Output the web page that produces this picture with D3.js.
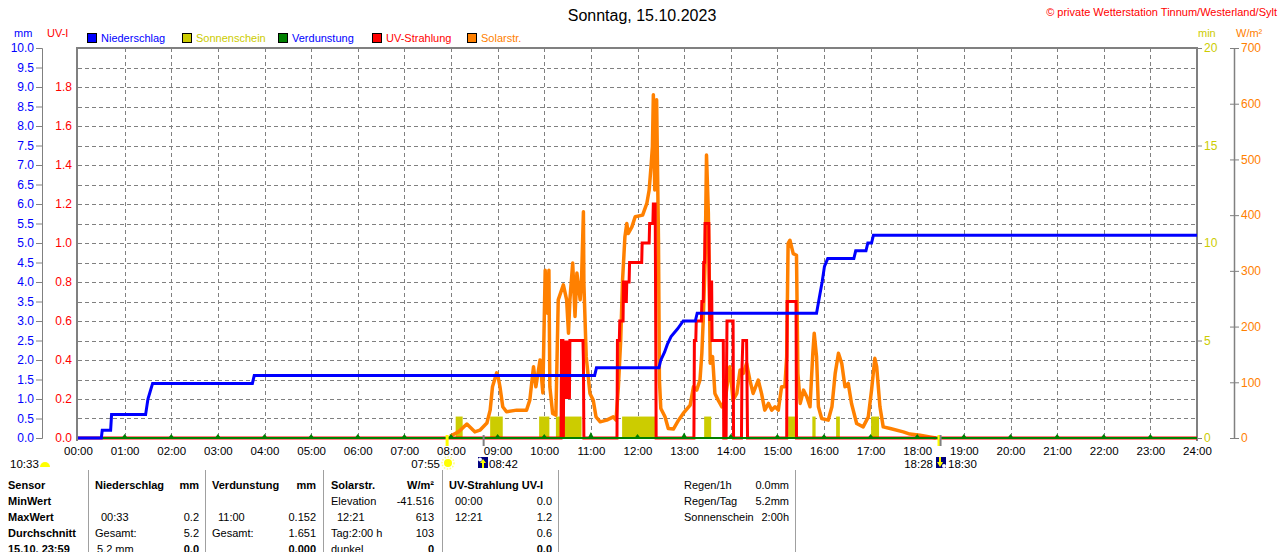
<!DOCTYPE html>
<html>
<head>
<meta charset="utf-8">
<script src="https://cdn.jsdelivr.net/npm/d3@7"></script>
<style>
  body { margin: 0; background: #fff; }
  svg { display: block; font-family: "Liberation Sans", Arial, sans-serif; }
</style>
</head>
<body>
<script>
// ---- data ----
var hourLabels = ["00:00","01:00","02:00","03:00","04:00","05:00","06:00","07:00","08:00","09:00","10:00","11:00","12:00",
  "13:00","14:00","15:00","16:00","17:00","18:00","19:00","20:00","21:00","22:00","23:00","24:00"];
var mmTicks = [0,0.5,1,1.5,2,2.5,3,3.5,4,4.5,5,5.5,6,6.5,7,7.5,8,8.5,9,9.5,10];
var uvTicks = [0,0.2,0.4,0.6,0.8,1.0,1.2,1.4,1.6,1.8];
var sunTicks = [0,5,10,15,20];
var solarTicks = [0,100,200,300,400,500,600,700];

// Niederschlag, cumulative mm  [hour, mm]
var rain = [[0,0],[0.50,0],[0.52,0.2],[0.70,0.2],[0.72,0.6],[1.45,0.6],[1.50,1.0],[1.55,1.2],[1.60,1.4],
  [3.74,1.4],[3.78,1.6],[11.08,1.6],[11.12,1.8],[12.46,1.8],[12.50,2.0],[12.58,2.2],[12.64,2.4],[12.72,2.6],
  [12.86,2.8],[12.98,3.0],[13.24,3.0],[13.28,3.2],[15.84,3.2],[15.90,3.6],[15.96,4.0],[16.01,4.4],[16.08,4.6],
  [16.64,4.6],[16.68,4.8],[16.90,4.8],[16.94,5.0],[17.02,5.0],[17.06,5.2],[24,5.2]];

// UV-Strahlung, UV-I  [hour, index]
var uv = [[0,0],[10.36,0],[10.37,0.5],[10.40,0.5],[10.41,0],[10.42,0.5],[10.44,0.2],[10.45,0.5],[10.46,0.2],
  [10.47,0.5],[10.48,0.2],[10.49,0.5],[10.50,0.3],[10.51,0.5],[10.52,0.2],[10.53,0.5],[10.54,0.2],[10.55,0.5],
  [10.83,0.5],[10.84,0.4],[10.85,0],[11.56,0],[11.57,0.5],[11.61,0.5],[11.62,0.6],[11.69,0.6],[11.70,0.8],
  [11.73,0.8],[11.74,0.7],[11.76,0.7],[11.77,0.8],[11.82,0.8],[11.83,0.9],[12.09,0.9],[12.10,1.0],[12.25,1.0],
  [12.26,1.1],[12.33,1.1],[12.34,1.2],[12.38,1.2],[12.40,0],[13.21,0],[13.22,0.5],[13.25,0.5],[13.26,0.6],
  [13.37,0.6],[13.38,0.7],[13.41,0.7],[13.42,0.9],[13.44,0.9],[13.45,1.1],[13.53,1.1],[13.54,0.8],[13.55,0.6],
  [13.57,0.8],[13.59,0.8],[13.60,0.5],[13.84,0.5],[13.85,0],[13.90,0],[13.91,0.35],[13.92,0.6],[14.05,0.6],
  [14.06,0],[14.23,0],[14.24,0.35],[14.26,0.5],[14.34,0.5],[14.36,0],[15.20,0],[15.21,0.7],[15.40,0.7],
  [15.41,0],[24,0]];

// Solarstrahlung W/m2  [hour, W/m2]
var solar = [[7.98,3],[8.16,11],[8.34,25],[8.51,11],[8.62,14],[8.77,27],[8.84,50],[8.89,92],[8.98,117],[9.01,110],
  [9.05,92],[9.11,56],[9.19,47],[9.41,50],[9.62,50],[9.69,68],[9.77,128],[9.82,92],[9.91,140],[9.97,81],
  [10.02,301],[10.07,224],[10.10,301],[10.12,92],[10.18,44],[10.25,41],[10.30,248],[10.41,275],[10.48,248],
  [10.52,188],[10.55,248],[10.61,314],[10.66,218],[10.70,296],[10.77,248],[10.80,284],[10.84,406],[10.85,278],
  [10.90,146],[10.98,80],[11.05,68],[11.11,38],[11.20,29],[11.34,32],[11.48,38],[11.54,32],[11.59,92],
  [11.64,176],[11.68,284],[11.73,361],[11.77,385],[11.80,367],[11.88,379],[11.95,397],[12.11,400],[12.20,421],
  [12.25,445],[12.29,487],[12.32,523],[12.34,616],[12.37,445],[12.41,607],[12.45,355],[12.47,104],[12.50,53],
  [12.59,38],[12.66,17],[12.77,16],[12.88,32],[12.98,44],[13.13,59],[13.20,92],[13.27,86],[13.34,104],
  [13.38,152],[13.41,212],[13.45,314],[13.48,508],[13.52,403],[13.56,134],[13.61,146],[13.66,80],[13.73,68],
  [13.81,56],[13.88,68],[13.98,128],[14.05,68],[14.13,80],[14.20,122],[14.27,116],[14.34,134],[14.41,104],
  [14.48,80],[14.59,104],[14.66,80],[14.73,50],[14.81,62],[14.88,50],[14.95,56],[15.02,50],[15.09,92],
  [15.16,92],[15.20,146],[15.23,349],[15.27,355],[15.34,331],[15.41,328],[15.44,116],[15.49,62],[15.56,86],
  [15.63,74],[15.70,56],[15.76,152],[15.79,188],[15.84,146],[15.88,56],[15.95,35],[16.09,32],[16.17,56],
  [16.24,116],[16.31,152],[16.38,134],[16.45,92],[16.52,98],[16.59,62],[16.70,26],[16.84,20],[16.95,38],
  [17.02,86],[17.09,143],[17.13,128],[17.20,56],[17.27,20],[17.42,17],[17.70,11],[17.84,7],[18.06,5],
  [18.27,2],[18.40,0]];

// Sonnenschein, minutes per minute step
var sunFrom = [8.10,8.84,9.89,10.25,11.67,13.43,15.23,15.75,16.26,17.01];
var sunTo   = [8.25,9.11,10.11,10.80,12.41,13.58,15.44,15.82,16.34,17.18];
var sunMin  = [1.1,1.1,1.1,1.1,1.1,1.1,1.1,1.1,1.1,1.1];

// Verdunstung per hour, mm
var evapHour = [1,2,3,4,5,6,7,8,9,10,11,12,13,14,15,16,17,18,19,20,21,22,23];
var evapMm = [0.02,0.02,0.02,0.02,0.02,0.02,0.02,0.03,0.06,0.08,0.152,0.08,0.14,0.08,0.06,0.1,0.06,0.03,0.02,0.02,0.02,0.02,0.02];

// legend
var legendNames = ["Niederschlag","Sonnenschein","Verdunstung","UV-Strahlung","Solarstr."];
var legendFill = ["#0000ff","#cccc00","#008000","#ff0000","#ff8000"];
var legendText = ["#0000ff","#cccc00","#0000ff","#ff0000","#ff8000"];

// table
var tableRows = [
  ["Sensor","Niederschlag","mm","Verdunstung","mm","Solarstr.","W/m²","UV-Strahlung UV-I",""],
  ["MinWert","","","","","Elevation","-41.516","00:00","0.0"],
  ["MaxWert","00:33","0.2","11:00","0.152","12:21","613","12:21","1.2"],
  ["Durchschnitt","Gesamt:","5.2","Gesamt:","1.651","Tag:2:00 h","103","","0.6"],
  ["15.10. 23:59","5.2 mm","0.0","","0.000","dunkel","0","","0.0"]
];
var summaryLabels = ["Regen/1h","Regen/Tag","Sonnenschein"];
var summaryValues = ["0.0mm","5.2mm","2:00h"];

// ---- layout ----
var W = 1280, H = 552;
var plotL = 78, plotR = 1197, plotT = 48, plotB = 438;

var svg = d3.select("body").append("svg").attr("width", W).attr("height", H);
svg.append("rect").attr("width", W).attr("height", H).attr("fill", "#fff");

var x = d3.scaleLinear().domain([0, 24]).range([plotL, plotR]);
var yMm = d3.scaleLinear().domain([0, 10]).range([plotB, plotT]);
var yUv = d3.scaleLinear().domain([0, 2]).range([plotB, plotT]);
var ySun = d3.scaleLinear().domain([0, 20]).range([plotB, plotT]);
var ySol = d3.scaleLinear().domain([0, 700]).range([plotB, plotT]);

// titles
svg.append("text").attr("x", 642).attr("y", 21).attr("text-anchor", "middle")
  .attr("font-size", 16).text("Sonntag, 15.10.2023");
svg.append("text").attr("x", 1277).attr("y", 16).attr("text-anchor", "end")
  .attr("font-size", 11).attr("fill", "#ff0000").text("© private Wetterstation Tinnum/Westerland/Sylt");

// unit labels
svg.append("text").attr("x", 14).attr("y", 37).attr("font-size", 11).attr("fill", "#0000ff").text("mm");
svg.append("text").attr("x", 47).attr("y", 37).attr("font-size", 11).attr("fill", "#ff0000").text("UV-I");
svg.append("text").attr("x", 1198).attr("y", 37).attr("font-size", 11).attr("fill", "#cccc00").text("min");
svg.append("text").attr("x", 1236).attr("y", 37).attr("font-size", 11).attr("fill", "#ff8000").text("W/m²");

// legend
var legendX = [87, 182, 278, 372, 467];
var lg = svg.append("g").selectAll("g").data(legendNames).enter().append("g")
  .attr("transform", (d, i) => `translate(${legendX[i]},33)`);
lg.append("rect").attr("x", 0.5).attr("y", 0.5).attr("width", 9).attr("height", 9)
  .attr("fill", (d, i) => legendFill[i]).attr("stroke", "#000");
lg.append("text").attr("x", 14).attr("y", 9).attr("font-size", 11)
  .attr("fill", (d, i) => legendText[i]).text(d => d);

// grid
var grid = svg.append("g").attr("stroke", "#808080").attr("stroke-dasharray", "4,3").attr("stroke-width", 1);
grid.selectAll(".h").data(mmTicks.filter(d => d > 0 && d < 10)).enter().append("line")
  .attr("x1", plotL).attr("x2", plotR)
  .attr("y1", d => Math.round(yMm(d)) + 0.5).attr("y2", d => Math.round(yMm(d)) + 0.5);
grid.selectAll(".v").data(hourLabels.map((d, i) => i).filter(d => d > 0 && d < 24)).enter().append("line")
  .attr("y1", plotT).attr("y2", plotB)
  .attr("x1", d => Math.round(x(d)) + 0.5).attr("x2", d => Math.round(x(d)) + 0.5);

// axes
var axisMm = svg.append("g").attr("transform", "translate(42,0)")
  .call(d3.axisLeft(yMm).tickValues(mmTicks).tickFormat(d3.format(".1f")).tickSize(6).tickSizeOuter(6).tickPadding(2));
axisMm.selectAll("text").attr("fill", "#0000ff").attr("font-size", 12);
axisMm.selectAll("line, path").attr("stroke", "#808080");
axisMm.attr("font-family", null);

var axisUv = svg.append("g").attr("transform", `translate(${plotL},0)`)
  .call(d3.axisLeft(yUv).tickValues(uvTicks).tickFormat(d3.format(".1f")).tickSize(0).tickPadding(6));
axisUv.select(".domain").remove();
axisUv.selectAll("text").attr("fill", "#ff0000").attr("font-size", 12);
axisUv.attr("font-family", null);

var axisX = svg.append("g").attr("transform", `translate(0,${plotB})`)
  .call(d3.axisBottom(x).tickValues(hourLabels.map((d, i) => i)).tickFormat((d, i) => hourLabels[i]).tickSize(0).tickPadding(9));
axisX.select(".domain").remove();
axisX.selectAll("text").attr("fill", "#000").attr("font-size", 11.5);
axisX.attr("font-family", null);

var axisSun = svg.append("g").attr("transform", `translate(${plotR},0)`)
  .call(d3.axisRight(ySun).tickValues(sunTicks).tickSize(5).tickPadding(2));
axisSun.select(".domain").remove();
axisSun.selectAll("line").attr("stroke", "#808080");
axisSun.selectAll("text").attr("fill", "#cccc00").attr("font-size", 12);
axisSun.attr("font-family", null);

var axisSol = svg.append("g").attr("transform", "translate(1234,0)")
  .call(d3.axisRight(ySol).tickValues(solarTicks).tickSize(5).tickSizeOuter(0).tickPadding(2));
axisSol.select(".domain").attr("stroke", "#808080").attr("stroke-width", 1.5);
axisSol.selectAll("line").attr("stroke", "#808080").attr("x1", -4);
axisSol.selectAll("text").attr("fill", "#ff8000").attr("font-size", 12);
axisSol.attr("font-family", null);

// plot frame
svg.append("path").attr("d", `M${plotL - 1},${plotB + 3}V${plotT}H${plotR}V${plotB + 3}`)
  .attr("fill", "none").attr("stroke", "#808080").attr("stroke-width", 2);

// sunshine bars
svg.append("g").selectAll("rect").data(sunFrom).enter().append("rect")
  .attr("x", d => x(d)).attr("width", (d, i) => x(sunTo[i]) - x(d))
  .attr("y", (d, i) => ySun(sunMin[i])).attr("height", (d, i) => ySun(0) - ySun(sunMin[i]))
  .attr("fill", "#cccc00");

// series lines
var solarLine = d3.line().x(d => x(d[0])).y(d => ySol(d[1]));
svg.append("path").datum(solar).attr("d", solarLine).attr("fill", "none")
  .attr("stroke", "#ff8000").attr("stroke-width", 3.5).attr("stroke-linejoin", "round");

var uvLine = d3.line().x(d => x(d[0])).y(d => yUv(d[1]));
svg.append("path").datum(uv).attr("d", uvLine).attr("fill", "none")
  .attr("stroke", "#ff0000").attr("stroke-width", 3).attr("stroke-linejoin", "miter");

// evaporation baseline + hourly marks (drawn over the zero parts of the other lines)
svg.append("line").attr("x1", x(0)).attr("x2", x(24)).attr("y1", yMm(0)).attr("y2", yMm(0))
  .attr("stroke", "#008000").attr("stroke-width", 2);
svg.append("g").selectAll("path").data(evapHour).enter().append("path")
  .attr("d", (d, i) => {
    var cx = x(d), ty = Math.min(yMm(evapMm[i]), plotB - 4);
    return `M${cx - 3},${plotB}L${cx},${ty}L${cx + 3},${plotB}Z`;
  })
  .attr("fill", "#008000");

var rainLine = d3.line().x(d => x(d[0])).y(d => yMm(d[1]));
svg.append("path").datum(rain).attr("d", rainLine).attr("fill", "none")
  .attr("stroke", "#0000ff").attr("stroke-width", 3).attr("stroke-linejoin", "miter");

// sunrise / sunset markers under the axis
var markT = [7 + 55 / 60, 8 + 42 / 60, 18 + 28 / 60, 18 + 30 / 60];
var markC = ["#ffff00", "#808080", "#ffff00", "#808080"];
svg.append("g").selectAll("line").data(markT).enter().append("line")
  .attr("x1", d => x(d)).attr("x2", d => x(d)).attr("y1", plotB - 3).attr("y2", plotB + 8)
  .attr("stroke", (d, i) => markC[i]).attr("stroke-width", (d, i) => i % 2 ? 2 : 3);

var info = svg.append("g").attr("font-size", 11.5);
info.append("text").attr("x", 10).attr("y", 468).text("10:33");
info.append("path").attr("d", "M40,467 A5,5 0 0 1 50,467 Z").attr("fill", "#ffff00");
info.append("text").attr("x", 440).attr("y", 468).attr("text-anchor", "end").text("07:55");
info.append("circle").attr("cx", 448).attr("cy", 463).attr("r", 4).attr("fill", "#ffff00");
info.append("circle").attr("cx", 448).attr("cy", 463).attr("r", 6).attr("fill", "none")
  .attr("stroke", "#ffff80").attr("stroke-width", 1.5).attr("stroke-dasharray", "1.5,1.5");
info.append("rect").attr("x", 478).attr("y", 457).attr("width", 10).attr("height", 11).attr("fill", "#000080");
info.append("path").attr("d", "M483,459 L480,463 L482,463 L482,468 L484,468 L484,463 L486,463 Z").attr("fill", "#ffff00");
info.append("circle").attr("cx", 480).attr("cy", 459.5).attr("r", 2).attr("fill", "#fff");
info.append("text").attr("x", 489).attr("y", 468).text("08:42");
info.append("text").attr("x", 933).attr("y", 468).attr("text-anchor", "end").text("18:28");
info.append("rect").attr("x", 936).attr("y", 457).attr("width", 10).attr("height", 11).attr("fill", "#000080");
info.append("path").attr("d", "M940,467 L937,462 L939,462 L939,457 L941,457 L941,462 L943,462 Z").attr("fill", "#ffff00");
info.append("circle").attr("cx", 944).attr("cy", 466).attr("r", 2).attr("fill", "#fff");
info.append("text").attr("x", 948).attr("y", 468).text("18:30");

// table
var sepX = [88, 205, 323, 442, 558, 795];
svg.append("g").selectAll("line").data(sepX).enter().append("line")
  .attr("x1", d => d + 0.5).attr("x2", d => d + 0.5).attr("y1", 470).attr("y2", H)
  .attr("stroke", "#a0a0a0");

var colX = [8, 95, 199, 212, 316, 331, 434, 449, 552];
var colAnchor = ["start", "start", "end", "start", "end", "start", "end", "start", "end"];
var rowY = [489, 505, 521, 537, 553];
var tbl = svg.append("g").attr("font-size", 11);
tableRows.forEach(function(row, r) {
  row.forEach(function(cell, c) {
    if (!cell) return;
    var bold = r === 0 || c === 0 || (r === 4 && (c === 2 || c === 4 || c === 6 || c === 8));
    var cx = colX[c];
    if ((r === 2 || r === 1) && (c === 1 || c === 3 || c === 5 || c === 7)) cx += 6;
    if (r === 1 && c === 5) cx -= 6;
    if (r === 4 && c === 1) cx += 2;
    tbl.append("text").attr("x", cx).attr("y", rowY[r]).attr("text-anchor", colAnchor[c])
      .attr("font-weight", bold ? "bold" : "normal").text(cell);
  });
});
summaryLabels.forEach(function(d, i) {
  tbl.append("text").attr("x", 684).attr("y", rowY[i]).text(d);
  tbl.append("text").attr("x", 789).attr("y", rowY[i]).attr("text-anchor", "end").text(summaryValues[i]);
});
</script>
</body>
</html>
